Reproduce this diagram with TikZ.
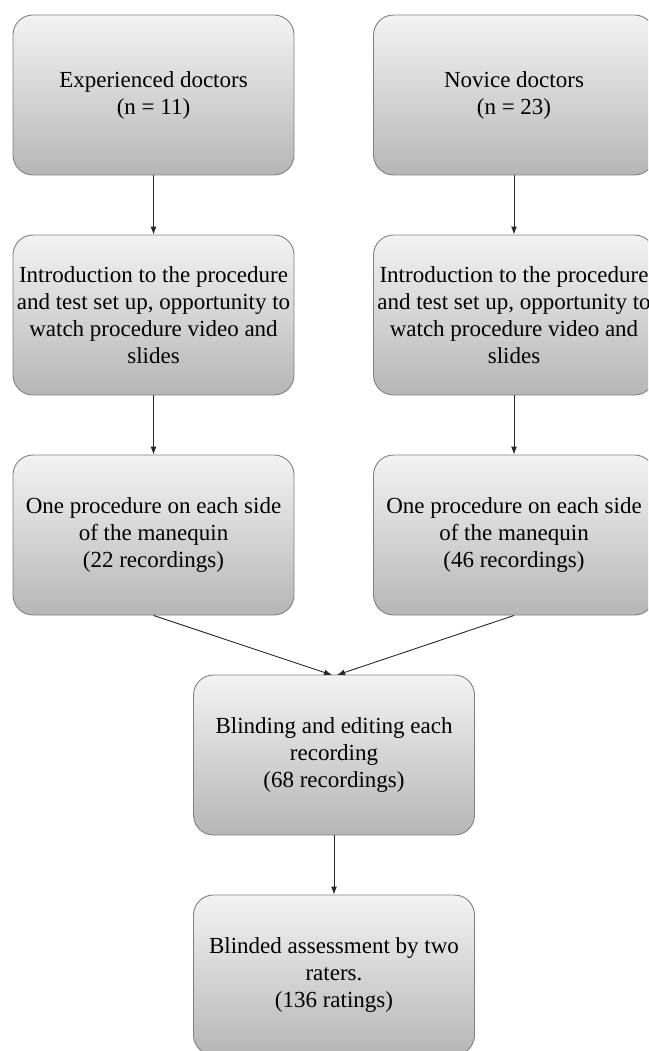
\documentclass[tikz,border=0pt]{standalone}
\usepackage{fontspec}
\setmainfont{Liberation Serif}
\usetikzlibrary{arrows.meta}
\definecolor{boxtop}{RGB}{243,243,243}
\definecolor{boxbot}{RGB}{182,182,182}
\definecolor{boxline}{RGB}{128,128,128}
\definecolor{arrowc}{RGB}{40,40,40}
\tikzset{
  flowbox/.style={draw=boxline, line width=0.9pt, rounded corners=20pt,
    top color=boxtop, bottom color=boxbot, minimum width=281pt, minimum height=160pt,
    inner sep=0pt, align=center, font=\fontsize{23}{27}\selectfont, text=black},
  flowarrow/.style={draw=arrowc, line width=0.9pt, -{Latex[length=8pt,width=6pt]}}
}
\begin{document}
\begin{tikzpicture}[x=1pt,y=-1pt]
\useasboundingbox (0,0) rectangle (648,1051);
\clip (0,0) rectangle (648,1051);
\node[flowbox] (exp) at (153.5,95) {Experienced doctors\\(n = 11)};
\node[flowbox] (nov) at (514,95) {Novice doctors\\(n = 23)};
\node[flowbox] (intL) at (153.5,315) {Introduction to the procedure\\and test set up, opportunity to\\watch procedure video and\\slides};
\node[flowbox] (intR) at (514,315) {Introduction to the procedure\\and test set up, opportunity to\\watch procedure video and\\slides};
\node[flowbox] (procL) at (153.5,535) {One procedure on each side\\of the manequin\\(22 recordings)};
\node[flowbox] (procR) at (514,535) {One procedure on each side\\of the manequin\\(46 recordings)};
\node[flowbox] (blind) at (334,755) {Blinding and editing each\\recording\\(68 recordings)};
\node[flowbox] (assess) at (334,975) {Blinded assessment by two\\raters.\\(136 ratings)};
\coordinate (mL) at (332,675);
\coordinate (mR) at (337,675);
\draw[flowarrow] (exp.south) -- (intL.north);
\draw[flowarrow] (nov.south) -- (intR.north);
\draw[flowarrow] (intL.south) -- (procL.north);
\draw[flowarrow] (intR.south) -- (procR.north);
\draw[flowarrow] (procL.south) -- (mL);
\draw[flowarrow] (procR.south) -- (mR);
\draw[flowarrow] (blind.south) -- (assess.north);
\end{tikzpicture}
\end{document}
